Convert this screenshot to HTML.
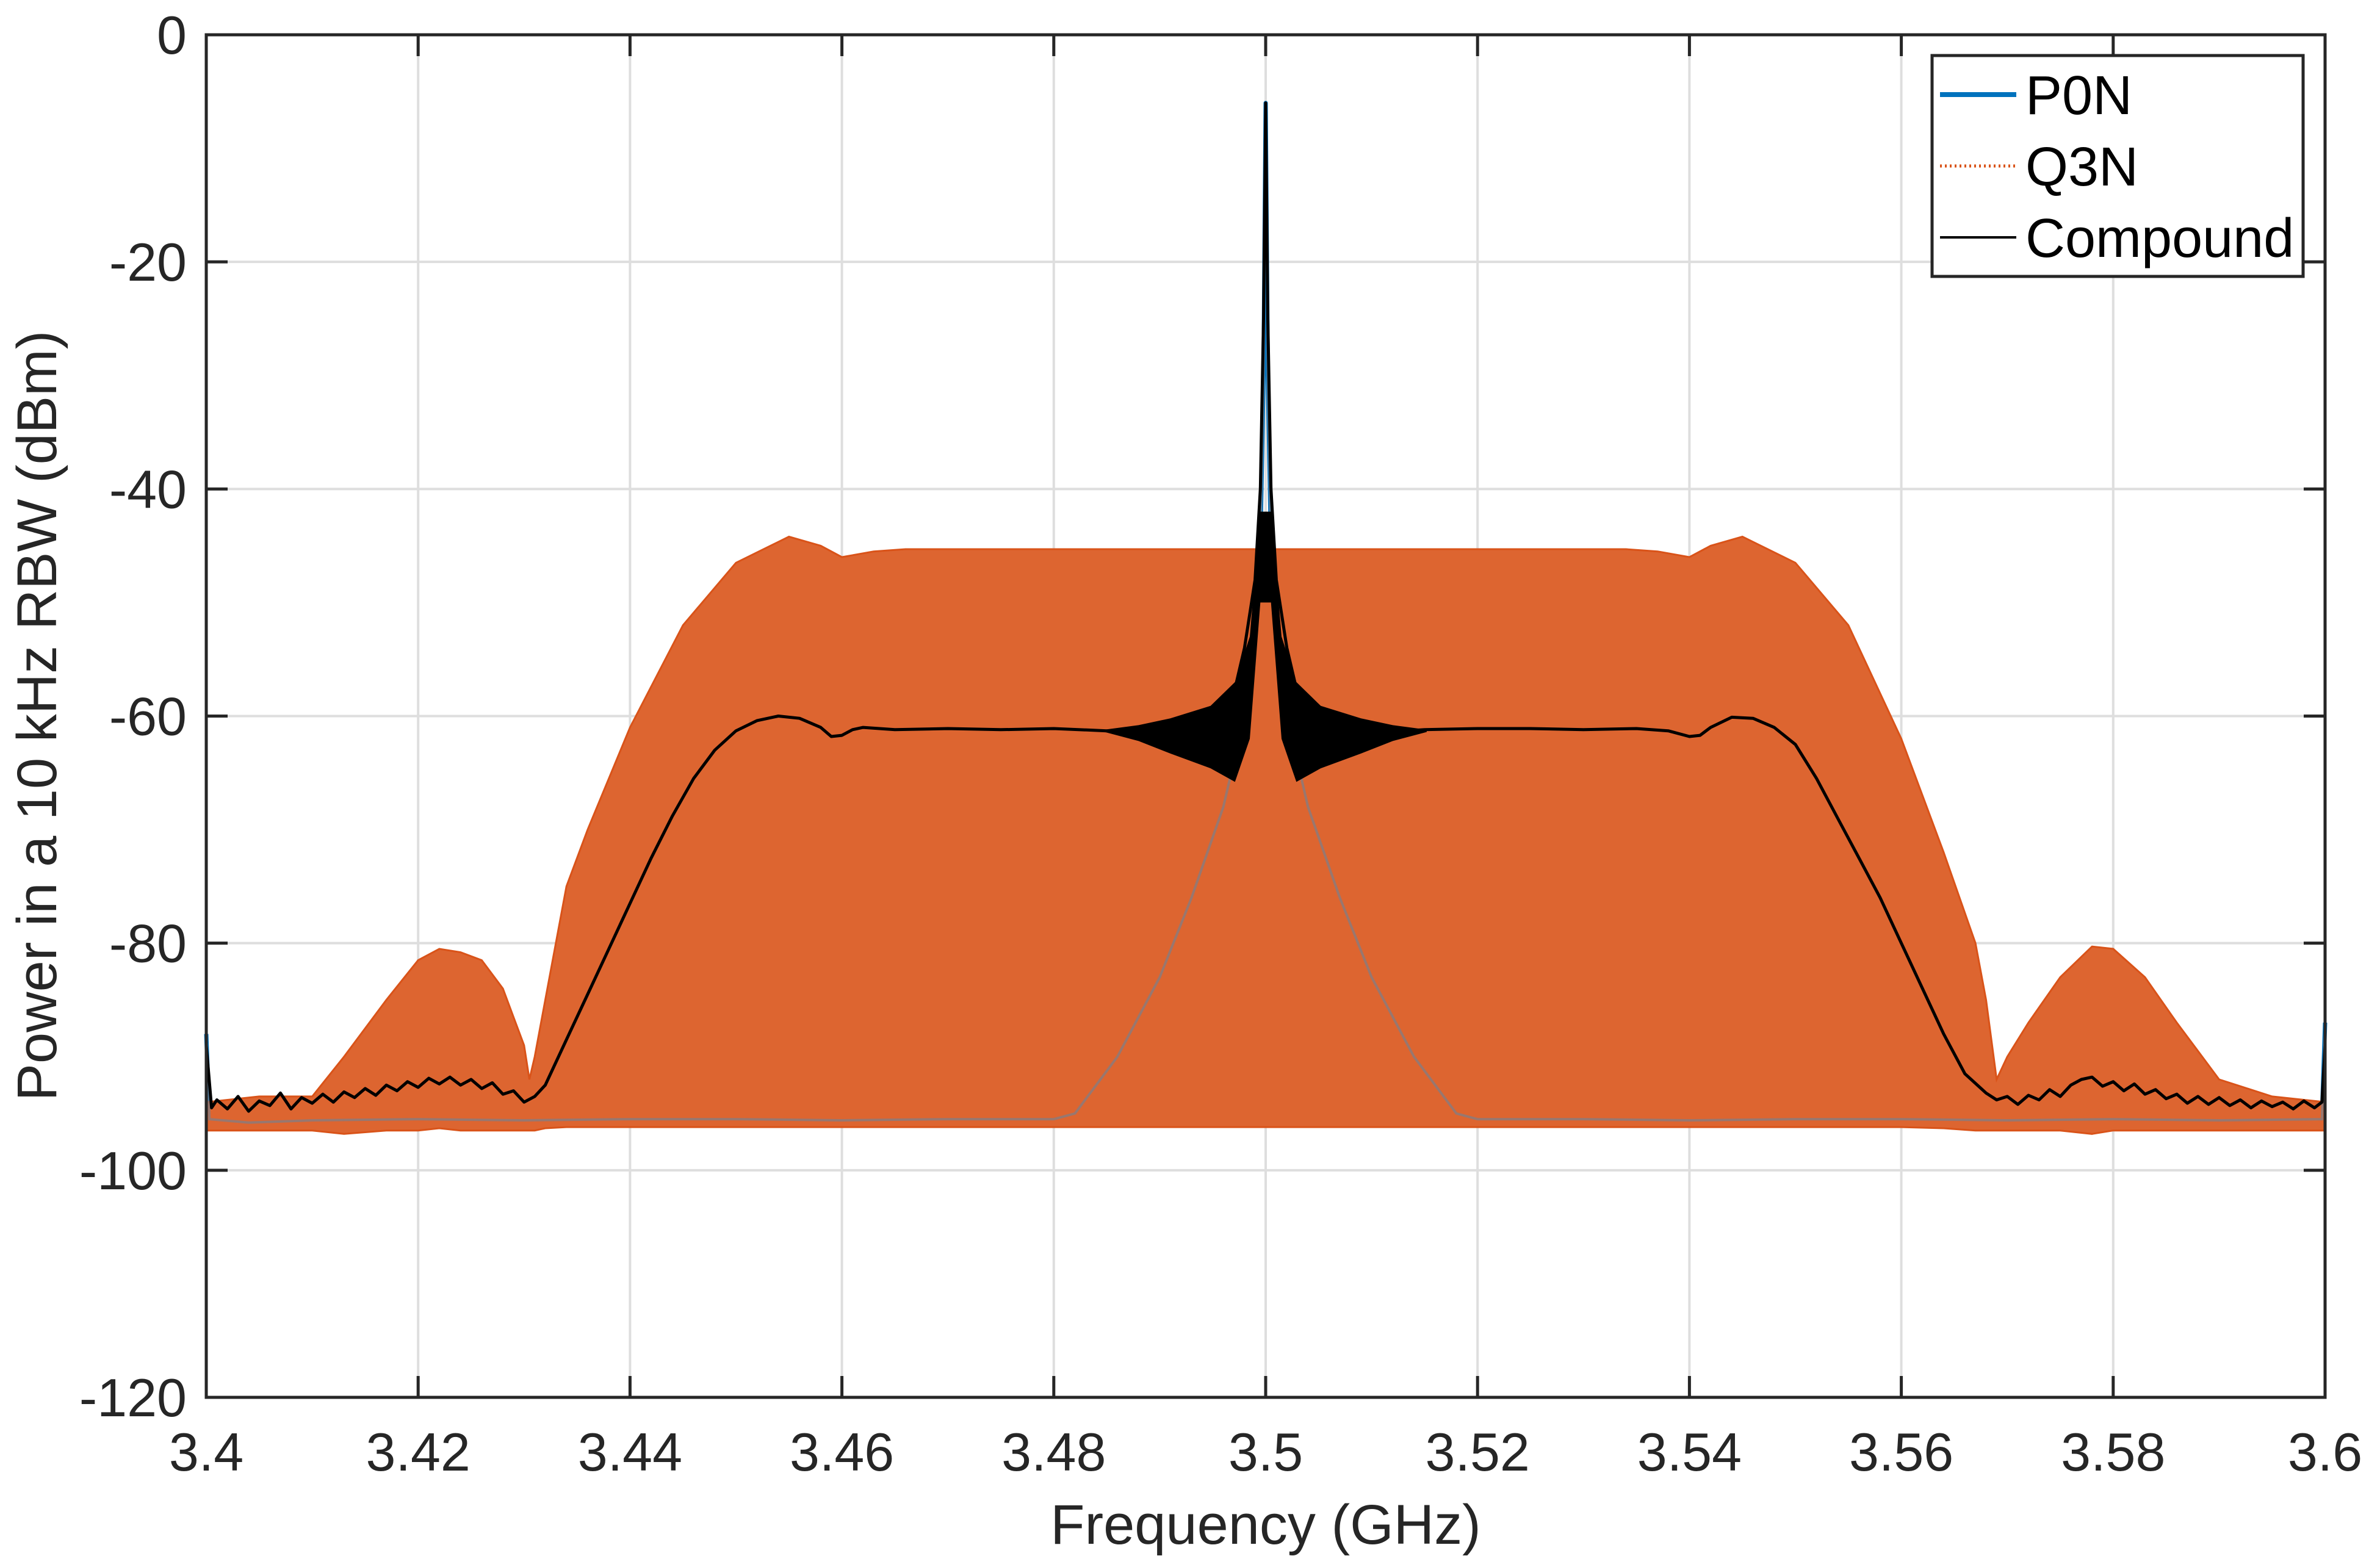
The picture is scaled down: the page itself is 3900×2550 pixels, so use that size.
<!DOCTYPE html>
<html><head><meta charset="utf-8"><style>
html,body{margin:0;padding:0;background:#fff;}
svg{display:block;}
text{font-family:"Liberation Sans",Arial,sans-serif;fill:#262626;}
</style></head><body>
<svg id="chart" width="3900" height="2550" viewBox="0 0 3900 2550" xmlns="http://www.w3.org/2000/svg">
<rect x="0" y="0" width="3900" height="2550" fill="#fff"/>
<g id="grid"></g>
<g id="series"></g>
<g id="axes"></g>
<text x="2074" y="2530" font-size="92" text-anchor="middle">Frequency (GHz)</text>
<text transform="translate(92,1173) rotate(-90)" font-size="92" text-anchor="middle">Power in a 10 kHz RBW (dBm)</text>
<g>
<rect x="3166" y="91" width="608" height="362" fill="#fff" stroke="#262626" stroke-width="5"/>
<line x1="3179" y1="155" x2="3304" y2="155" stroke="#0072bd" stroke-width="8"/>
<text x="3319" y="187" font-size="90" fill="#000" style="fill:#000">P0N</text>
<line x1="3179" y1="272" x2="3304" y2="272" stroke="#d95319" stroke-width="5" stroke-dasharray="3,5"/>
<text x="3319" y="304" font-size="90" style="fill:#000">Q3N</text>
<line x1="3179" y1="389" x2="3304" y2="389" stroke="#000" stroke-width="4"/>
<text x="3319" y="421" font-size="90" style="fill:#000">Compound</text>
</g>
</svg>
<script>
const xTicks = [3.4,3.42,3.44,3.46,3.48,3.5,3.52,3.54,3.56,3.58,3.6];
const xTickLabels = ["3.4","3.42","3.44","3.46","3.48","3.5","3.52","3.54","3.56","3.58","3.6"];
const yTicks = [-120,-100,-80,-60,-40,-20,0];
const yTickLabels = ["-120","-100","-80","-60","-40","-20","0"];

// Q3N envelope (upper / lower) in dBm
const q3Freq = [3.400,3.405,3.410,3.413,3.417,3.420,3.422,3.424,3.426,3.428,3.429,3.430,3.4305,3.431,3.432,3.434,3.436,3.440,3.445,3.450,3.455,3.458,3.460,3.463,3.466,3.480,3.500,3.520,3.534,3.537,3.540,3.542,3.545,3.550,3.555,3.560,3.564,3.567,3.568,3.569,3.570,3.572,3.575,3.578,3.580,3.583,3.586,3.588,3.590,3.595,3.600];
const q3High = [-94,-93.5,-93.5,-90,-85,-81.5,-80.5,-80.8,-81.5,-84,-86.5,-89,-92,-90,-85,-75,-70,-61,-52,-46.5,-44.2,-45,-46,-45.5,-45.3,-45.3,-45.3,-45.3,-45.3,-45.5,-46,-45,-44.2,-46.5,-52,-62,-72,-80,-85,-92,-90,-87,-83,-80.3,-80.5,-83,-87,-89.5,-92,-93.5,-94];
const q3Low = [-96.5,-96.5,-96.5,-96.8,-96.5,-96.5,-96.3,-96.5,-96.5,-96.5,-96.5,-96.5,-96.5,-96.5,-96.3,-96.2,-96.2,-96.2,-96.2,-96.2,-96.2,-96.2,-96.2,-96.2,-96.2,-96.2,-96.2,-96.2,-96.2,-96.2,-96.2,-96.2,-96.2,-96.2,-96.2,-96.2,-96.3,-96.5,-96.5,-96.5,-96.5,-96.5,-96.5,-96.8,-96.5,-96.5,-96.5,-96.5,-96.5,-96.5,-96.5];

// P0N trace
const p0Freq = [3.400,3.4003,3.404,3.410,3.420,3.430,3.440,3.450,3.460,3.470,3.480,3.482,3.486,3.490,3.493,3.496,3.498,3.499,3.4995,3.4998,3.500,3.5002,3.5005,3.501,3.502,3.504,3.507,3.510,3.514,3.518,3.520,3.530,3.540,3.550,3.560,3.570,3.580,3.590,3.5997,3.600];
const p0Pow = [-88,-95.5,-95.8,-95.6,-95.5,-95.6,-95.5,-95.5,-95.6,-95.5,-95.5,-95,-90,-83,-76,-68,-60,-53,-45,-30,-6,-30,-45,-53,-60,-68,-76,-83,-90,-95,-95.5,-95.5,-95.6,-95.5,-95.5,-95.6,-95.5,-95.6,-95.5,-87];

// Compound trace
const compFreq = [3.400,3.4005,3.401,3.402,3.403,3.404,3.405,3.406,3.407,3.408,3.409,3.410,3.411,3.412,3.413,3.414,3.415,3.416,3.417,3.418,3.419,3.420,3.421,3.422,3.423,3.424,3.425,3.426,3.427,3.428,3.429,3.430,3.431,3.432,3.434,3.436,3.438,3.440,3.442,3.444,3.446,3.448,3.450,3.452,3.454,3.456,3.458,3.459,3.460,3.461,3.462,3.465,3.470,3.475,3.480,3.485,3.490,3.494,3.496,3.497,3.498,3.499,3.4995,3.4998,3.500,3.5002,3.5005,3.501,3.502,3.503,3.504,3.506,3.510,3.515,3.520,3.525,3.530,3.535,3.538,3.540,3.541,3.542,3.544,3.546,3.548,3.550,3.552,3.554,3.556,3.558,3.560,3.562,3.564,3.566,3.568,3.569,3.570,3.571,3.572,3.573,3.574,3.575,3.576,3.577,3.578,3.579,3.580,3.581,3.582,3.583,3.584,3.585,3.586,3.587,3.588,3.589,3.590,3.591,3.592,3.593,3.594,3.595,3.596,3.597,3.598,3.599,3.5997,3.600];
const compPow = [-89,-94.5,-93.8,-94.6,-93.5,-94.8,-93.9,-94.3,-93.2,-94.6,-93.6,-94.1,-93.3,-94.0,-93.1,-93.6,-92.8,-93.4,-92.5,-93.0,-92.2,-92.7,-91.9,-92.4,-91.8,-92.5,-92.0,-92.8,-92.3,-93.3,-93.0,-94.0,-93.5,-92.5,-88.5,-84.5,-80.5,-76.5,-72.5,-68.8,-65.5,-63,-61.3,-60.4,-60.0,-60.2,-61.0,-61.8,-61.7,-61.2,-61.0,-61.2,-61.1,-61.2,-61.1,-61.3,-61.5,-61.5,-60,-58,-54,-48,-40,-25,-6,-25,-40,-48,-54,-58,-60,-61.5,-61.5,-61.2,-61.1,-61.1,-61.2,-61.1,-61.3,-61.8,-61.7,-61.0,-60.1,-60.2,-61.0,-62.5,-65.5,-69,-72.5,-76,-80,-84,-88,-91.5,-93.2,-93.8,-93.5,-94.2,-93.4,-93.8,-92.9,-93.5,-92.5,-92.0,-91.8,-92.6,-92.2,-93.0,-92.4,-93.3,-92.9,-93.7,-93.3,-94.1,-93.5,-94.2,-93.6,-94.3,-93.8,-94.5,-93.9,-94.4,-94.0,-94.6,-93.9,-94.5,-94.0,-89];

// Compound ripple burst envelope around the carrier
const burstFreq = [3.4848,3.488,3.491,3.4948,3.4971,3.4985,3.4995,3.5005,3.5015,3.5029,3.5052,3.509,3.512,3.5152];
const burstHigh = [-61.2,-60.8,-60.2,-59.1,-57,-53,-42,-42,-53,-57,-59.1,-60.2,-60.8,-61.2];
const burstLow = [-61.4,-62.2,-63.3,-64.6,-65.8,-62,-50,-50,-62,-65.8,-64.6,-63.3,-62.2,-61.4];

const L = 338, R = 3810, T = 57, B = 2290;
const X0 = 3.4, X1 = 3.6, Y0 = -120, Y1 = 0;
function xs(f){ return L + (f - X0) / (X1 - X0) * (R - L); }
function ys(v){ return B - (v - Y0) / (Y1 - Y0) * (B - T); }
const NS = "http://www.w3.org/2000/svg";
function mk(tag, attrs, parent){
  const el = document.createElementNS(NS, tag);
  for (const k in attrs) el.setAttribute(k, attrs[k]);
  parent.appendChild(el);
  return el;
}
const grid = document.getElementById('grid');
const axes = document.getElementById('axes');
const series = document.getElementById('series');

xTicks.forEach(function(t, i){
  const g = mk('line', {x1: xs(t), x2: xs(t), y1: T, y2: B, stroke: '#dedede', 'stroke-width': 4}, grid);
  
  
  const tb = mk('line', {x1: xs(t), x2: xs(t), y1: B, y2: B - 35, stroke: '#262626', 'stroke-width': 5}, axes);
  
  
  const tt = mk('line', {x1: xs(t), x2: xs(t), y1: T, y2: T + 35, stroke: '#262626', 'stroke-width': 5}, axes);
  
  
  const lb = mk('text', {x: xs(t), y: 2410, 'font-size': 88, 'text-anchor': 'middle'}, axes);
  lb.textContent = xTickLabels[i];
  
  
});
yTicks.forEach(function(t, i){
  const g = mk('line', {x1: L, x2: R, y1: ys(t), y2: ys(t), stroke: '#dedede', 'stroke-width': 4}, grid);
  
  
  const tl = mk('line', {x1: L, x2: L + 35, y1: ys(t), y2: ys(t), stroke: '#262626', 'stroke-width': 5}, axes);
  
  
  const tr = mk('line', {x1: R, x2: R - 35, y1: ys(t), y2: ys(t), stroke: '#262626', 'stroke-width': 5}, axes);
  
  
  const lb = mk('text', {x: 306, y: ys(t) + 31, 'font-size': 88, 'text-anchor': 'end'}, axes);
  lb.textContent = yTickLabels[i];
  
  
});
const frame = mk('rect', {x: L, y: T, width: R - L, height: B - T, fill: 'none', stroke: '#262626', 'stroke-width': 5}, axes);



function linePts(fx, fy){ return fx.map(function(f, i){ return xs(f).toFixed(1) + ',' + ys(fy[i]).toFixed(1); }).join(' '); }
function bandPts(fx, hi, lo){
  const a = fx.map(function(f, i){ return xs(f).toFixed(1) + ',' + ys(hi[i]).toFixed(1); });
  const b = fx.map(function(f, i){ return xs(f).toFixed(1) + ',' + ys(lo[i]).toFixed(1); }).reverse();
  return a.concat(b).join(' ');
}

// P0N underneath
const p0 = mk('polyline', {points: linePts(p0Freq, p0Pow), fill: 'none', stroke: '#0072bd', 'stroke-width': 7, 'stroke-linejoin': 'round'}, series);



// Q3N dense band
const q3 = mk('polygon', {points: bandPts(q3Freq, q3High, q3Low), fill: '#dd6530', stroke: '#d95319', 'stroke-width': 3}, series);



// P0N skirt showing through
const p0s = mk('polyline', {points: linePts(p0Freq, p0Pow), fill: 'none', stroke: '#7a7f8a', 'stroke-width': 4, opacity: 0.7}, series);



// Compound burst
const burst = mk('polygon', {points: bandPts(burstFreq, burstHigh, burstLow), fill: '#000'}, series);



const comp = mk('polyline', {points: linePts(compFreq, compPow), fill: 'none', stroke: '#000', 'stroke-width': 5, 'stroke-linejoin': 'round'}, series);


</script>
</body></html>
